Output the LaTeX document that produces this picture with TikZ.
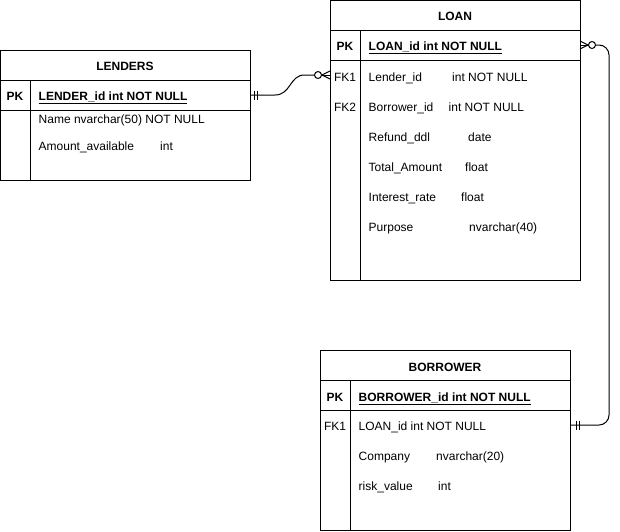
\documentclass[tikz,border=0pt]{standalone}
\usepackage{fontspec}
\setmainfont{Liberation Sans}
\begin{document}
\begin{tikzpicture}[x=1pt,y=-1pt,
  tbl/.style={draw=black, line width=1pt, fill=white, inner sep=0pt, outer sep=0pt, minimum height=#1},
  rowbox/.style={inner sep=0pt, outer sep=0pt, minimum width=250pt, minimum height=30pt},
  txt/.style={anchor=base west, inner sep=0pt, font=\fontsize{12}{14}\selectfont},
  pktxt/.style={anchor=base west, inner sep=0pt, font=\fontsize{12}{14}\selectfont\bfseries},
  keylbl/.style={anchor=base, inner sep=0pt, font=\fontsize{12}{14}\selectfont},
  hdr/.style={anchor=base, inner sep=0pt, font=\fontsize{12}{14}\selectfont\bfseries},
  rule/.style={draw=black, line width=1pt},
  conn/.style={draw=black, line width=1pt}
]
\useasboundingbox (0,0) rectangle (620,531);

% ---------- LENDERS ----------
\node[tbl=130pt, minimum width=250pt] (lenders) at (125,115) {};
\node[rowbox] (lendhdr) at (125,65) {};
\node[rowbox] (lendpk) at (125,95) {};
\draw[rule] (0,80) -- (250,80);
\draw[rule] (0,110) -- (250,110);
\draw[rule] (30,80) -- (30,180);
\node[hdr] (lendtitle) at (125,70.5) {LENDERS};
\node[keylbl, font=\fontsize{12}{14}\selectfont\bfseries] (lendpkl) at (15,100.5) {PK};
\node[pktxt] (lendpkt) at (38.5,100.5) {\underline{LENDER\_id int NOT NULL}};
\node[txt] (lendname) at (38.5,123.3) {Name nvarchar(50) NOT NULL};
\node[txt] (lendamt) at (38.5,150) {Amount\_available};
\node[txt] (lendamtt) at (160,150) {int};

% ---------- LOAN ----------
\node[tbl=280pt, minimum width=250pt] (loan) at (455,140) {};
\node[rowbox] (loanpk) at (455,45) {};
\node[rowbox] (loanfk1) at (455,75) {};
\draw[rule] (330,30) -- (580,30);
\draw[rule] (330,60) -- (580,60);
\draw[rule] (360,30) -- (360,280);
\node[hdr] (loantitle) at (455,20) {LOAN};
\node[keylbl, font=\fontsize{12}{14}\selectfont\bfseries] (loanpkl) at (345,50.5) {PK};
\node[pktxt] (loanpkt) at (368.5,50.5) {\underline{LOAN\_id int NOT NULL}};
\node[keylbl] (loanfk1l) at (345,81) {FK1};
\node[txt] (loanlender) at (368.5,81) {Lender\_id};
\node[txt] (loanlendert) at (452,81) {int NOT NULL};
\node[keylbl] (loanfk2l) at (345,111) {FK2};
\node[txt] (loanborr) at (368.5,111) {Borrower\_id};
\node[txt] (loanborrt) at (448.5,111) {int NOT NULL};
\node[txt] (loanref) at (368.5,141) {Refund\_ddl};
\node[txt] (loanreft) at (468,141) {date};
\node[txt] (loantot) at (368.5,171) {Total\_Amount};
\node[txt] (loantott) at (465,171) {float};
\node[txt] (loanint) at (368.5,201) {Interest\_rate};
\node[txt] (loanintt) at (461,201) {float};
\node[txt] (loanpur) at (368.5,231) {Purpose};
\node[txt] (loanpurt) at (469,231) {nvarchar(40)};

% ---------- BORROWER ----------
\node[tbl=180pt, minimum width=250pt] (borrower) at (445,440) {};
\node[rowbox] (borpk) at (445,395) {};
\node[rowbox] (borfk1) at (445,425) {};
\draw[rule] (320,380) -- (570,380);
\draw[rule] (320,410) -- (570,410);
\draw[rule] (350,380) -- (350,530);
\node[hdr] (bortitle) at (445,371) {BORROWER};
\node[keylbl, font=\fontsize{12}{14}\selectfont\bfseries] (borpkl) at (335,401) {PK};
\node[pktxt] (borpkt) at (358.5,401) {\underline{BORROWER\_id int NOT NULL}};
\node[keylbl] (borfk1l) at (335,430) {FK1};
\node[txt] (borloan) at (358.5,430) {LOAN\_id int NOT NULL};
\node[txt] (borcomp) at (358.5,460) {Company};
\node[txt] (borcompt) at (436,460) {nvarchar(20)};
\node[txt] (borrisk) at (358.5,490) {risk\_value};
\node[txt] (borriskt) at (438,490) {int};

% ---------- Connector LENDERS -> LOAN ----------
\coordinate (c1a) at ([xshift=-15.5pt]loanfk1.west);
\draw[conn] (lendpk.east) -- ++(25,0) .. controls ++(16,0) and ([xshift=-25pt]c1a) .. ([xshift=-10pt]c1a) -- (c1a);
\draw[conn] ([xshift=4pt,yshift=4.5pt]lendpk.east) -- ++(0,9);
\draw[conn] ([xshift=7pt,yshift=4.5pt]lendpk.east) -- ++(0,9);
\draw[conn] ([xshift=3.5pt]c1a) circle (3.5pt);
\draw[conn] ([xshift=7pt]c1a) -- (loanfk1.west);
\draw[conn] ([xshift=-8pt]loanfk1.west) -- ([yshift=4pt]loanfk1.west);
\draw[conn] ([xshift=-8pt]loanfk1.west) -- ([yshift=-4pt]loanfk1.west);

% ---------- Connector LOAN -> BORROWER ----------
\coordinate (c2a) at ([xshift=15.5pt]loanpk.east);
\draw[conn] (loanpk.east) -- ([xshift=8.5pt]loanpk.east);
\draw[conn] ([xshift=8pt]loanpk.east) -- ([yshift=4pt]loanpk.east);
\draw[conn] ([xshift=8pt]loanpk.east) -- ([yshift=-4pt]loanpk.east);
\draw[conn] ([xshift=-3.5pt]c2a) circle (3.5pt);
\draw[conn, rounded corners=10pt] (c2a) -- (609,45) -- (609,425) -- (borfk1.east);
\draw[conn] ([xshift=6.5pt,yshift=4.5pt]borfk1.east) -- ++(0,9);
\draw[conn] ([xshift=9.5pt,yshift=4.5pt]borfk1.east) -- ++(0,9);
\end{tikzpicture}
\end{document}
